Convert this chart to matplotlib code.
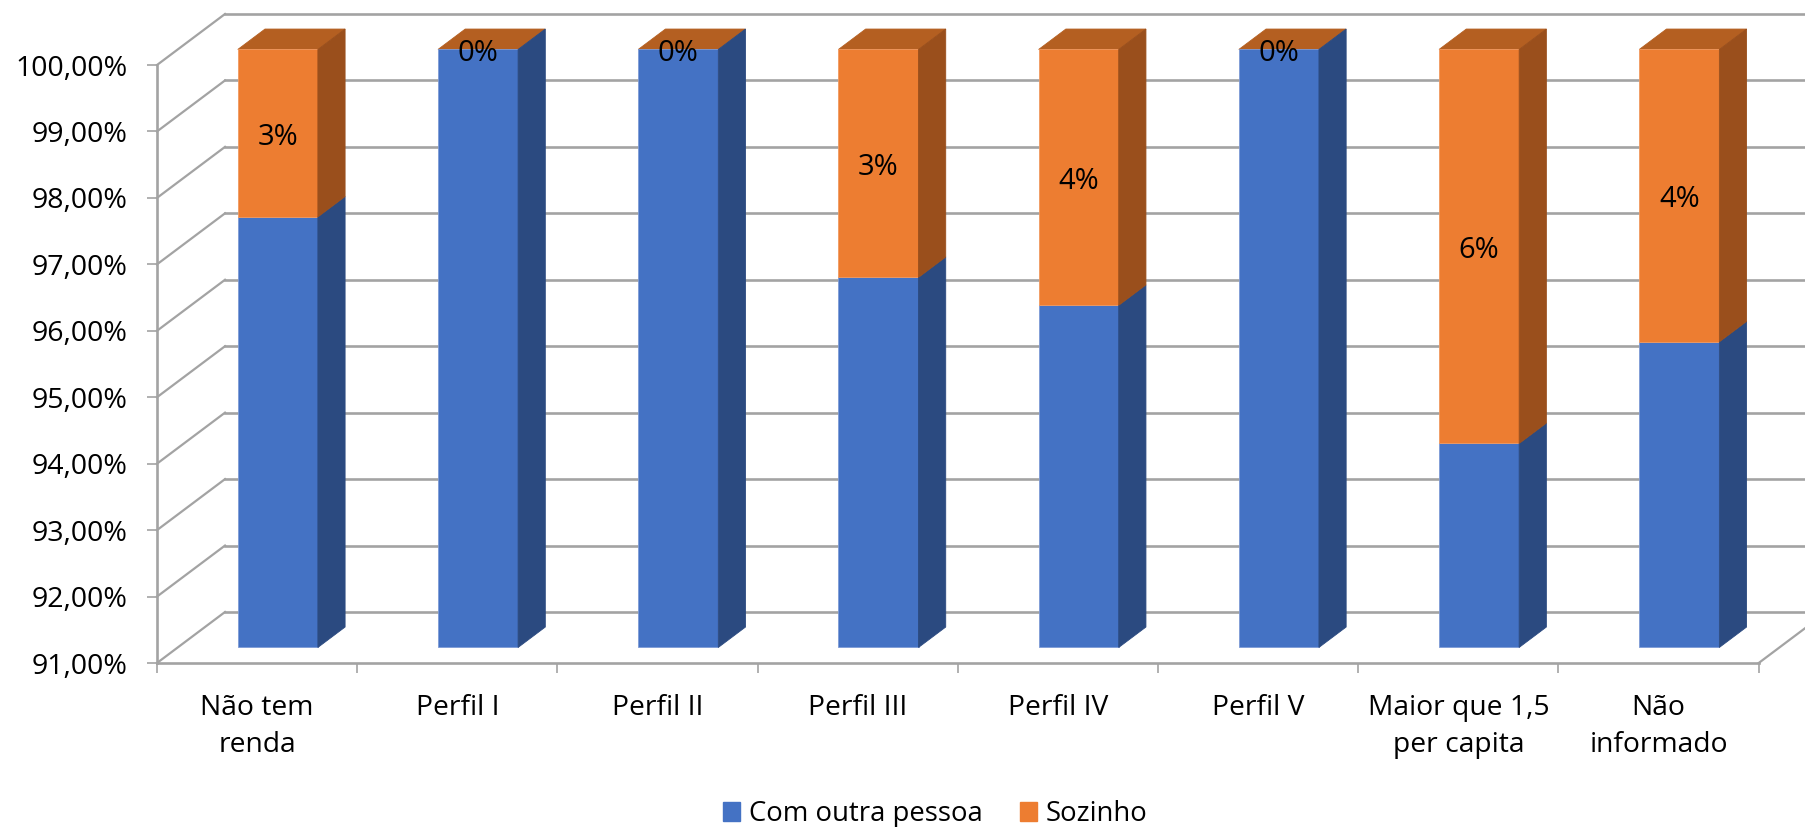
import matplotlib
matplotlib.use("Agg")
import matplotlib.pyplot as plt
from matplotlib.patches import Patch

plt.rcParams['font.family'] = ['Open Sans', 'DejaVu Sans']

# Dados
categorias = ["Não tem\nrenda", "Perfil I", "Perfil II", "Perfil III", "Perfil IV",
              "Perfil V", "Maior que 1,5\nper capita", "Não\ninformado"]
com_outra = [97.48, 100.0, 100.0, 96.57, 96.15, 100.0, 94.07, 95.60]
rotulos = ["3%", "0%", "0%", "3%", "4%", "0%", "6%", "4%"]
y_ticks = [91, 92, 93, 94, 95, 96, 97, 98, 99, 100]
y_labels = ["91,00%", "92,00%", "93,00%", "94,00%", "95,00%",
            "96,00%", "97,00%", "98,00%", "99,00%", "100,00%"]

W, H = 1806, 827
# deslocamento da profundidade (em unidades dos eixos)
DX = 68 / 200.2
DY = 51 / 66.44
BASE = 91
LARG = 0.4
D0, D1 = 0.305, 0.705

AZUL, AZUL_LADO = '#4472C4', '#2B4A80'
LARANJA, LARANJA_LADO, LARANJA_TOPO = '#ED7D31', '#9A4F1C', '#B45F21'
GRADE = '#A3A3A3'

fig = plt.figure(figsize=(W / 100, H / 100), dpi=100)
ax = fig.add_axes([157 / W, 1 - 663 / H, (1758.7 - 157) / W, (663 - 65) / H])
ax.set_xlim(0, 8)
ax.set_ylim(BASE, 100)
ax.patch.set_visible(False)


def proj(x, y, d):
    return x + d * DX, y + d * DY


def face(pontos, cor, zorder, borda=None):
    xs = [p[0] for p in pontos]
    ys = [p[1] for p in pontos]
    ax.fill(xs, ys, facecolor=cor, edgecolor=borda if borda else cor, linewidth=0.6,
            zorder=zorder, clip_on=False)


# parede do fundo e piso
for v in y_ticks:
    x0, y0 = proj(0, v, 0)
    x1, y1 = proj(0, v, 1)
    ax.plot([x0, x1], [y0, y1], color=GRADE, lw=1.6, zorder=1, clip_on=False)
    ax.plot([x1, 8 + DX], [y1, y1], color=GRADE, lw=1.9, zorder=1, clip_on=False)
ax.plot([8, 8 + DX], [BASE, BASE + DY], color=GRADE, lw=1.6, zorder=1, clip_on=False)

# barras
for i in range(len(categorias)):
    esq = i + 0.5 - LARG / 2
    dir_ = i + 0.5 + LARG / 2
    meio = com_outra[i]
    for a, b, frente, lado in [(BASE, meio, AZUL, AZUL_LADO), (meio, 100, LARANJA, LARANJA_LADO)]:
        if b <= a:
            continue
        borda = '#7E9BD6' if frente == AZUL else '#F19A60'
        face([proj(esq, a, D0), proj(dir_, a, D0), proj(dir_, b, D0), proj(esq, b, D0)], frente, 3, borda)
        face([proj(dir_, a, D0), proj(dir_, a, D1), proj(dir_, b, D1), proj(dir_, b, D0)], lado, 4)
    face([proj(esq, 100, D0), proj(dir_, 100, D0), proj(dir_, 100, D1), proj(esq, 100, D1)], LARANJA_TOPO, 2)
    tx, ty = proj(i + 0.5, (meio + 100) / 2 - 0.065, D0)
    ax.text(tx, ty, rotulos[i], ha='center', va='center', fontsize=21, color='black', zorder=6, clip_on=False)

# eixos
for lado in ['top', 'right']:
    ax.spines[lado].set_visible(False)
for lado in ['left', 'bottom']:
    ax.spines[lado].set_color(GRADE)
    ax.spines[lado].set_linewidth(1.9)
ax.set_yticks(y_ticks)
ax.set_yticklabels(y_labels)
ax.tick_params(axis='y', length=7.2, width=1.2, color=GRADE, pad=14, labelsize=20.5)
ax.set_xticks(range(9))
ax.set_xticklabels([])
ax.tick_params(axis='x', which='major', length=7.2, width=1.2, color=GRADE)
ax.set_xticks([i + 0.5 for i in range(8)], minor=True)
ax.set_xticklabels(categorias, minor=True, linespacing=1.47)
ax.tick_params(axis='x', which='minor', length=0, pad=22, labelsize=20.3)

fig.legend(handles=[Patch(color=AZUL, label="Com outra pessoa"), Patch(color=LARANJA, label="Sozinho")],
           loc='center', bbox_to_anchor=(935 / W, 1 - 814 / H), ncol=2, frameon=False, fontsize=19.8,
           handlelength=0.65, handleheight=0.65, handletextpad=0.3, columnspacing=1.35)

fig.savefig("out.png", dpi=100)
